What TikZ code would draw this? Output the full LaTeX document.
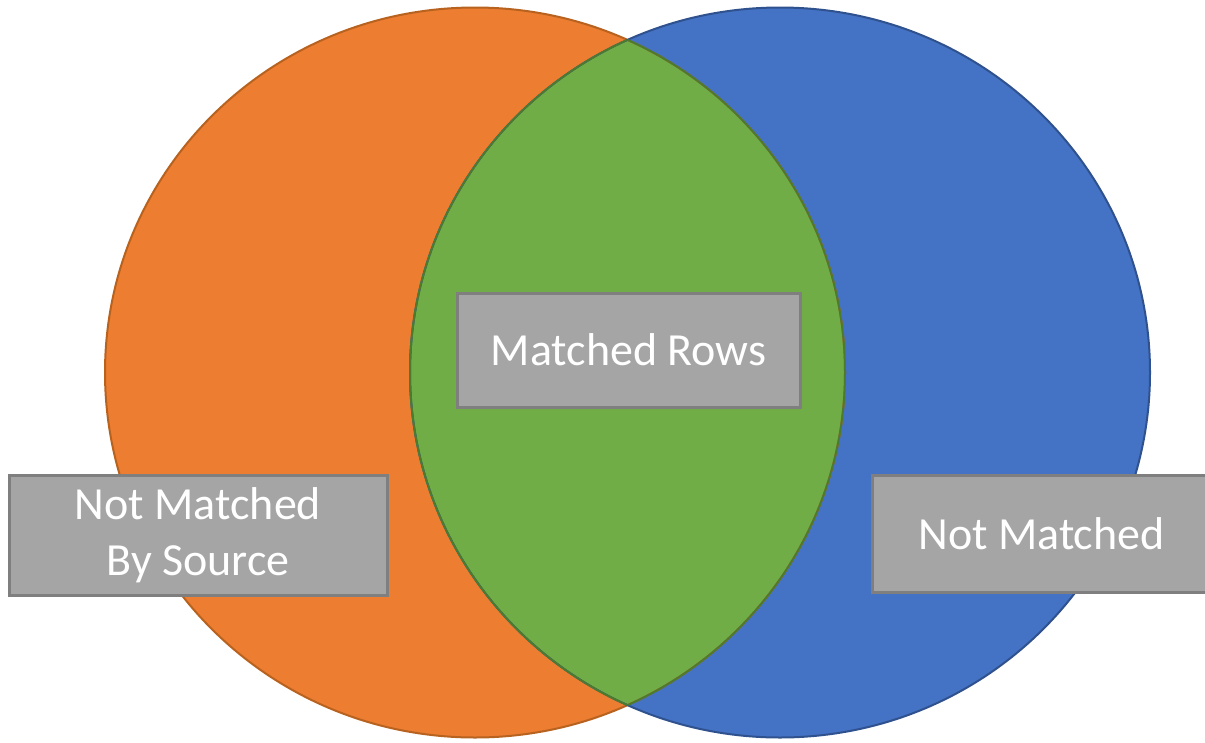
\documentclass[tikz,border=0pt]{standalone}
\usepackage{fontspec}
\setmainfont{Carlito}
\definecolor{orfill}{HTML}{ED7D31}
\definecolor{orline}{HTML}{B8621F}
\definecolor{blfill}{HTML}{4472C4}
\definecolor{blline}{HTML}{2F528F}
\definecolor{grfill}{HTML}{70AD47}
\definecolor{grline}{HTML}{4E7A2F}
\definecolor{boxfill}{HTML}{A5A5A5}
\definecolor{boxline}{HTML}{7F7F7F}
\tikzset{
  labelbox/.style={draw=boxline, line width=3pt, fill=boxfill, text=white,
    align=center, inner sep=0pt, font=\fontsize{46}{56}\selectfont},
  setline/.style={line width=2pt}
}
\begin{document}
\begin{tikzpicture}[x=1pt,y=-1pt]
\useasboundingbox (0,0) rectangle (1205,742);
% circles
\fill[orfill] (475,372.5) ellipse [x radius=370, y radius=365];
\fill[blfill] (780,372.5) ellipse [x radius=370, y radius=365];
\begin{scope}
  \clip (475,372.5) ellipse [x radius=370, y radius=365];
  \fill[grfill] (780,372.5) ellipse [x radius=370, y radius=365];
\end{scope}
\draw[setline, orline] (475,372.5) ellipse [x radius=370, y radius=365];
\draw[setline, blline] (780,372.5) ellipse [x radius=370, y radius=365];
\begin{scope}
  \clip (475,372.5) ellipse [x radius=370, y radius=365];
  \draw[setline, grline] (780,372.5) ellipse [x radius=370, y radius=365];
\end{scope}
\begin{scope}
  \clip (780,372.5) ellipse [x radius=370, y radius=365];
  \draw[setline, grline] (475,372.5) ellipse [x radius=370, y radius=365];
\end{scope}
% labels
\node[labelbox, minimum width=378pt, minimum height=120pt] (nmbs) at (198,535) {Not Matched\\By Source};
\node[labelbox, minimum width=343pt, minimum height=114pt] (mr) at (628.5,350) {Matched Rows};
\node[labelbox, minimum width=380pt, minimum height=117pt] (nm) at (1062,533.5) {\hspace*{-41pt}Not Matched};
\end{tikzpicture}
\end{document}
